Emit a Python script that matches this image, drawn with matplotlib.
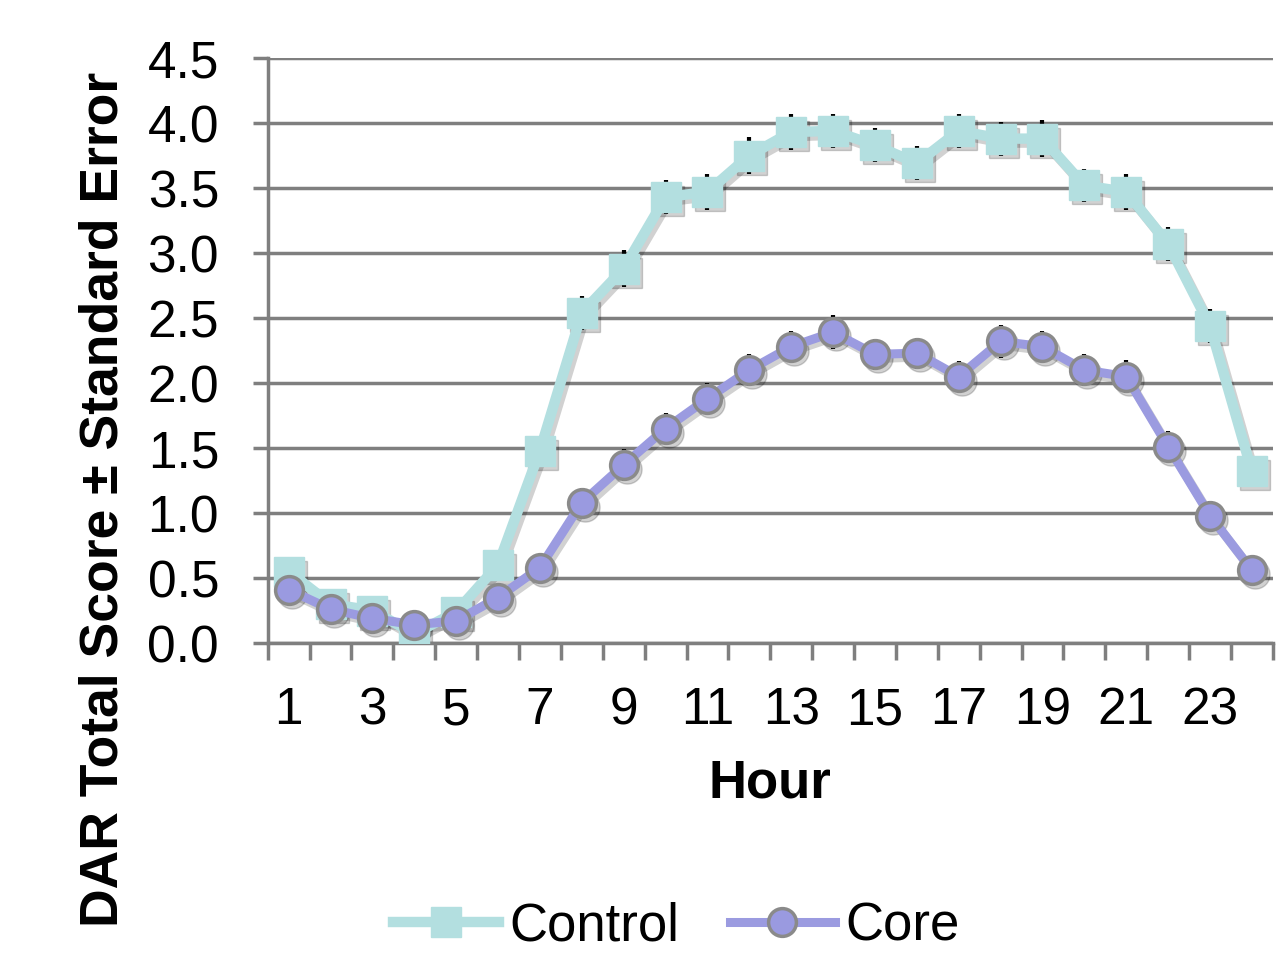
import numpy as np
import matplotlib
matplotlib.use("Agg")
import matplotlib.pyplot as plt
from matplotlib.transforms import offset_copy

plt.rcParams['font.family'] = ['Liberation Sans', 'DejaVu Sans']

hours = list(range(1, 25))
control = [0.55, 0.30, 0.25, 0.07, 0.24, 0.60, 1.48, 2.54, 2.88, 3.43, 3.47, 3.75,
           3.93, 3.94, 3.83, 3.69, 3.94, 3.88, 3.88, 3.52, 3.47, 3.07, 2.44, 1.32]
control_se = [0.07, 0.05, 0.05, 0.04, 0.05, 0.08, 0.11, 0.13, 0.14, 0.13, 0.14, 0.14,
              0.14, 0.13, 0.13, 0.13, 0.13, 0.13, 0.14, 0.13, 0.14, 0.13, 0.13, 0.11]
core = [0.41, 0.26, 0.19, 0.14, 0.17, 0.35, 0.58, 1.08, 1.37, 1.65, 1.88, 2.10,
        2.28, 2.39, 2.22, 2.23, 2.05, 2.32, 2.28, 2.10, 2.05, 1.51, 0.98, 0.56]
core_se = [0.05, 0.04, 0.04, 0.04, 0.04, 0.05, 0.06, 0.11, 0.12, 0.12, 0.12, 0.12,
           0.12, 0.13, 0.12, 0.12, 0.12, 0.13, 0.12, 0.12, 0.13, 0.12, 0.11, 0.06]

fig = plt.figure(figsize=(12.87, 9.59), dpi=100)
ax = fig.add_axes([0.208, 0.3295, 0.781, 0.61])

# drop shadows, shifted a few pixels down-right
shadow_tr = offset_copy(ax.transData, fig=fig, x=3, y=-4, units='dots')
ax.plot(hours, control, color='black', alpha=0.18, lw=7.5, marker='s', markersize=21,
        transform=shadow_tr, zorder=2.5)
ax.plot(hours, core, color='black', alpha=0.18, lw=6.5, marker='o', markersize=21,
        transform=shadow_tr, zorder=2.5)

ax.errorbar(hours, control, yerr=control_se, fmt='none', ecolor='black', elinewidth=3, capsize=0, zorder=3)
ax.errorbar(hours, core, yerr=core_se, fmt='none', ecolor='black', elinewidth=3, capsize=0, zorder=3)

ax.plot(hours, control, color='#b3dfe0', lw=7.5, marker='s', markersize=21,
        markerfacecolor='#b3dfe0', markeredgecolor='#b3dfe0', zorder=4, label='Control')
ax.plot(hours, core, color='#9b9be0', lw=6.5, marker='o', markersize=20,
        markerfacecolor='#9a9ae0', markeredgecolor='#8a8a8a', markeredgewidth=2.5,
        zorder=5, label='Core')

ax.set_xlim(0.5, 24.5)
ax.set_ylim(0, 4.5)
ax.set_yticks(np.arange(0, 4.51, 0.5))
ax.set_yticklabels([f"{v:.1f}" for v in np.arange(0, 4.51, 0.5)])
ax.set_xticks(np.arange(0.5, 24.6, 1))
ax.set_xticklabels([])
ax.set_xticks(range(1, 25, 2), minor=True)
ax.set_xticklabels([str(h) for h in range(1, 25, 2)], minor=True)

ax.grid(axis='y', color='#7f7f7f', lw=2.5)
ax.set_axisbelow(True)
for s in ['top', 'right']:
    ax.spines[s].set_visible(False)
for s in ['left', 'bottom']:
    ax.spines[s].set_color('#7f7f7f')
    ax.spines[s].set_linewidth(2.5)

ax.tick_params(axis='y', which='major', length=11, width=2.5, color='#7f7f7f', labelsize=37, pad=24)
ax.tick_params(axis='x', which='major', length=12, width=2.5, color='#7f7f7f', direction='out')
ax.tick_params(axis='x', which='minor', length=0, labelsize=37, pad=31)

ax.set_xlabel('Hour', fontsize=38, fontweight='bold', labelpad=17)
ax.set_ylabel('DAR Total Score \u00b1 Standard Error', fontsize=38.5, fontweight='bold')
ax.yaxis.set_label_coords(-0.138, 0.245)

ax.legend(loc='center', bbox_to_anchor=(0.407, -0.484), ncol=2, frameon=False,
          fontsize=38, handlelength=2.0, handletextpad=0.2, columnspacing=0.95,
          borderaxespad=0, borderpad=0)

fig.savefig('out.png', dpi=100)
